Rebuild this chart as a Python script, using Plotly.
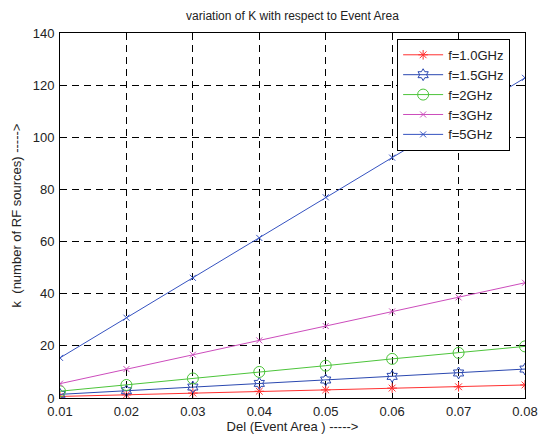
import plotly.graph_objects as go

x_vals = [0.01, 0.02, 0.03, 0.04, 0.05, 0.06, 0.07, 0.08]
k_1ghz = [0.6, 1.2, 1.9, 2.6, 3.1, 3.8, 4.3, 5.0]
k_15ghz = [1.4, 2.8, 4.2, 5.6, 6.9, 8.3, 9.6, 11.1]
k_2ghz = [2.6, 5.0, 7.5, 10.0, 12.4, 15.0, 17.3, 19.8]
k_3ghz = [5.5, 11.1, 16.6, 22.1, 27.6, 33.2, 38.6, 44.2]
k_5ghz = [15.4, 30.8, 46.1, 61.4, 77.0, 92.2, 107.4, 122.8]

series = [
    ("f=1.0GHz", k_1ghz, "#ff3030", "asterisk-open", 8),
    ("f=1.5GHz", k_15ghz, "#2b48b0", "hexagram-open", 9),
    ("f=2GHz", k_2ghz, "#4cc43a", "circle-open", 11),
    ("f=3GHz", k_3ghz, "#cc4cbc", "x-thin-open", 6),
    ("f=5GHz", k_5ghz, "#3552c0", "x-thin-open", 6),
]

fig = go.Figure()
for name, y, color, sym, size in series:
    fig.add_trace(go.Scatter(
        x=x_vals, y=y, name=name, mode="lines+markers",
        line=dict(color=color, width=1),
        marker=dict(symbol=sym, size=size, color=color,
                    line=dict(color=color, width=1)),
    ))

FONT = "Liberation Sans, Arial, sans-serif"
axis_common = dict(
    showline=True, linecolor="black", linewidth=1, mirror="allticks",
    ticks="inside", ticklen=5, tickcolor="black",
    showgrid=True, gridcolor="black", gridwidth=1, griddash="7px,5px",
    zeroline=False, automargin=False,
    tickfont=dict(family=FONT, size=13, color="#222"),
)

fig.update_xaxes(
    range=[0.01, 0.08], tickvals=x_vals,
    ticktext=["0.01", "0.02", "0.03", "0.04", "0.05", "0.06", "0.07", "0.08"],
    title=dict(text="Del (Event Area ) ----->", standoff=4,
               font=dict(family=FONT, size=13, color="#222")),
    ticklabelstandoff=1,
    **axis_common,
)
fig.update_yaxes(
    range=[0, 140], tickvals=[0, 20, 40, 60, 80, 100, 120, 140],
    title=dict(text="k  (number of RF sources) ----->", standoff=8,
               font=dict(family=FONT, size=13, color="#222")),
    ticklabelstandoff=2,
    **axis_common,
)

fig.update_layout(
    width=538, height=436,
    margin=dict(l=60, r=13, t=33, b=38),
    paper_bgcolor="white", plot_bgcolor="white",
    title=dict(text="variation of K with respect to Event Area",
               x=0.5437, xanchor="center", y=0.963, yanchor="middle",
               font=dict(family=FONT, size=12, color="#222")),
    legend=dict(x=0.725, y=0.984, xanchor="left", yanchor="top",
                bgcolor="white", bordercolor="black", borderwidth=1,
                font=dict(family=FONT, size=13, color="#222"),
                tracegroupgap=0, itemwidth=40),
    showlegend=True,
)

# remove the default 8px page margin so the figure fills the window exactly
fig.write_html(
    "out.html",
    config={"displayModeBar": False},
    post_script="document.body.style.margin='0';document.body.style.overflow='hidden';",
)
